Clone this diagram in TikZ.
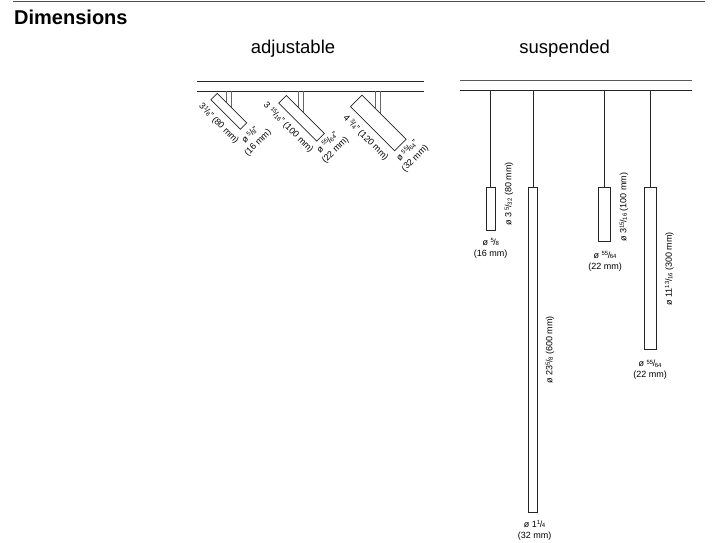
\documentclass[tikz,border=0pt]{standalone}
\usepackage{fontspec}
\setmainfont{Liberation Sans}
\usetikzlibrary{positioning,calc}
\newcommand{\frc}[2]{\raisebox{0.3em}{\fontsize{6}{6}\selectfont #1}\kern-0.05em/\kern-0.05em\raisebox{-0.05em}{\fontsize{6}{6}\selectfont #2}}
\begin{document}
\begin{tikzpicture}[x=1pt,y=-1pt]
\tikzset{lbl/.style={font=\fontsize{9}{11}\selectfont,inner sep=0pt,align=center}} % small dimension labels
\tikzset{ttl/.style={font=\fontsize{18.5}{20}\selectfont,inner sep=0pt}}
\tikzset{rail/.style={line width=0.9pt,black!85}}
\tikzset{wire/.style={line width=0.7pt,black!85}}
\tikzset{lampv/.style={draw,line width=0.7pt,black!85,fill=white,inner sep=0pt,anchor=north}}
\tikzset{lampd/.style={draw,line width=0.7pt,black!85,fill=white,inner sep=0pt,rotate=-45}}
\useasboundingbox (0,0) rectangle (722,542);
\coordinate (ruleL) at (13,1);
\coordinate (ruleR) at (705,1);
\draw[line width=1pt,black!70] (ruleL) -- (ruleR);
\node (dim) [anchor=west,inner sep=0pt,font=\fontsize{20}{22}\selectfont\bfseries] at (14,17) {Dimensions};
\node (adj) [ttl] at (293,48.5) {adjustable};
\node (sus) [ttl] at (564.7,48.5) {suspended};
% adjustable
\coordinate (raL1) at (197,81);   \coordinate (raR1) at (424,81);
\coordinate (raL2) at (197,91);   \coordinate (raR2) at (424,91);
\draw[rail] (raL1) -- (raR1);
\draw[rail] (raL2) -- (raR2);
\foreach \n/\xa/\ya/\xb/\yb in {a/226.3/103/231/107.5,b/298.3/109.5/303.3/114.5,c/375/112/380/117} {
  \coordinate (\n s1) at (\xa,91);
  \coordinate (\n e1) at (\xa,\ya);
  \coordinate (\n s2) at (\xb,91);
  \coordinate (\n e2) at (\xb,\yb);
  \draw[wire,black!60] (\n s1) -- (\n e1);
  \draw[wire,black!60] (\n s2) -- (\n e2);
}
\node (lampa) [lampd,minimum width=41.8pt,minimum height=9.1pt] at (228.85,111.3) {};
\node (lampb) [lampd,minimum width=53.7pt,minimum height=10.8pt] at (301.5,118.35) {};
\node (lampc) [lampd,minimum width=62.4pt,minimum height=16.3pt] at (378.35,123) {};
\node (lena) [lbl,rotate=-45] at (218.8,123.5) {3\frc{1}{8}" (80 mm)};
\node (lenb) [lbl,rotate=-45] at (288.3,127.7) {3 \frc{15}{16}" (100 mm)};
\node (lenc) [lbl,rotate=-45] at (365.7,137.7) {4 \frc{3}{4}" (120 mm)};
\node (diaa) [lbl,rotate=45] at (254,139) {ø \frc{5}{8}"\\(16 mm)};
\node (diab) [lbl,rotate=45] at (331.5,146.3) {ø \frc{55}{64}"\\(22 mm)};
\node (diac) [lbl,rotate=45] at (411.2,154.6) {ø \frc{55}{64}"\\(32 mm)};
% suspended
\coordinate (rsL1) at (460,80);   \coordinate (rsR1) at (692,80);
\coordinate (rsL2) at (460,90.3); \coordinate (rsR2) at (692,90.3);
\draw[rail,black!65] (rsL1) -- (rsR1);
\draw[rail] (rsL2) -- (rsR2);
\node (lamp1) [lampv,minimum width=9pt,minimum height=43.6pt] at (490.7,186.7) {};
\node (lamp2) [lampv,minimum width=9pt,minimum height=325pt] at (533.2,186.7) {};
\node (lamp3) [lampv,minimum width=12.4pt,minimum height=54.6pt] at (604.5,186.7) {};
\node (lamp4) [lampv,minimum width=12pt,minimum height=162.6pt] at (650.3,186.7) {};
\foreach \n in {1,2,3,4} {
  \coordinate (top\n) at (lamp\n.north |- rsL2);
  \draw[wire] (top\n) -- (lamp\n.north);
}
\node (len1) [lbl,rotate=90] at (509,194) {ø 3 \frc{5}{32} (80 mm)};
\node (len2) [lbl,rotate=90] at (550,350) {ø 23\frc{5}{8} (600 mm)};
\node (len3) [lbl,rotate=90] at (624,207) {ø 3\frc{15}{16} (100 mm)};
\node (len4) [lbl,rotate=90] at (669.3,268.7) {ø 11\frc{13}{16} (300 mm)};
\node (dia1) [lbl] at (490.7,248.3) {ø \frc{5}{8}\\(16 mm)};
\node (dia2) [lbl] at (534.5,530.5) {ø 1\frc{1}{4}\\(32 mm)};
\node (dia3) [lbl] at (605,261.2) {ø \frc{55}{64}\\(22 mm)};
\node (dia4) [lbl] at (650,370) {ø \frc{55}{64}\\(22 mm)};
\end{tikzpicture}
\end{document}
